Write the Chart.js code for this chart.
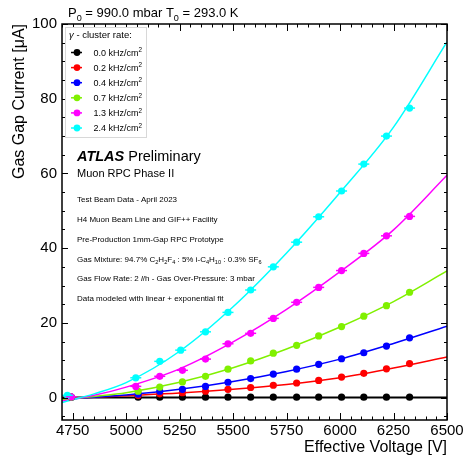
<!DOCTYPE html>
<html>
<head>
<meta charset="utf-8">
<script src="https://cdn.jsdelivr.net/npm/chart.js@4.4.0/dist/chart.umd.min.js"></script>
<style>
  html, body { margin: 0; padding: 0; background: #fff; }
</style>
</head>
<body>
<canvas id="chart" width="466" height="459"></canvas>
<script>
// measured points (effective voltage [V], gas gap current [uA])
const hvRun = [4743, 5056, 5157, 5263, 5371, 5476, 5582, 5688, 5797, 5900, 6007, 6111, 6217, 6325];
const hvMagenta = [4743, 5045, 5157, 5263, 5371, 5476, 5582, 5688, 5797, 5900, 6007, 6111, 6217, 6325];
const hvCyan = [4725, 5045, 5157, 5255, 5371, 5476, 5582, 5688, 5797, 5900, 6007, 6111, 6217, 6325];

const curBlack = [0.1, 0.1, 0.1, 0.1, 0.1, 0.1, 0.1, 0.1, 0.1, 0.1, 0.1, 0.1, 0.1, 0.1];
const curRed = [0.1, 0.6, 1.0, 1.3, 1.7, 2.2, 2.7, 3.3, 3.9, 4.6, 5.5, 6.5, 7.7, 9.1];
const curBlue = [0.1, 0.9, 1.7, 2.2, 3.0, 4.1, 5.1, 6.3, 7.6, 8.9, 10.4, 12.0, 13.8, 16.0];
const curGreen = [0.1, 1.7, 2.8, 4.2, 5.7, 7.6, 9.8, 11.9, 14.0, 16.5, 19.0, 21.8, 24.6, 28.2];
const curMagenta = [0.2, 3.0, 5.7, 7.3, 10.3, 14.4, 17.2, 21.2, 25.5, 29.5, 34.0, 38.6, 43.3, 48.5];
const curCyan = [0.6, 5.3, 9.7, 12.7, 17.6, 22.8, 28.8, 35.0, 41.6, 48.4, 55.3, 62.5, 70.0, 77.5];

// fit curves
const fitHV = [4700, 4850, 5000, 5250, 5500, 5750, 6000, 6250, 6500];
const fitBlack = [0, 0, 0, 0, 0, 0, 0, 0, 0];
const fitRed = [-0.3, 0.1, 0.5, 1.2, 2.2, 3.5, 5.3, 7.9, 10.9];
const fitBlue = [-0.5, 0.1, 0.7, 2.2, 4.3, 7.0, 10.3, 14.5, 19.1];
const fitGreen = [-0.6, 0.3, 1.3, 4.1, 8.0, 13.0, 18.9, 25.7, 33.9];
const fitMagenta = [-0.9, 0.6, 2.8, 7.7, 14.9, 23.6, 33.7, 44.9, 59.5];
const fitCyan = [-1.3, 1.0, 4.0, 12.4, 24.3, 38.7, 54.9, 72.4, 95.2];

const rates = ["0.0", "0.2", "0.4", "0.7", "1.3", "2.4"];
const colors = ["#000000", "#ff0000", "#0000ff", "#80f000", "#ff00ff", "#00ffff"];

const xTicks = [4750, 5000, 5250, 5500, 5750, 6000, 6250, 6500];
const yTicks = [0, 20, 40, 60, 80, 100];

const FONT = '"Liberation Sans", Arial, sans-serif';

const hvs = [hvRun, hvRun, hvRun, hvRun, hvMagenta, hvCyan];
const curs = [curBlack, curRed, curBlue, curGreen, curMagenta, curCyan];
const fits = [fitBlack, fitRed, fitBlue, fitGreen, fitMagenta, fitCyan];

const pts = (xs, ys) => xs.map((v, i) => ({ x: v, y: ys[i] }));

// higher order is drawn first, so later rates end up on top
let datasets = [];
rates.forEach((r, k) => {
    datasets.push({
        label: r + " kHz/cm2",
        data: pts(hvs[k], curs[k]),
        backgroundColor: colors[k],
        borderColor: colors[k],
        borderWidth: 0,
        pointRadius: 3.6,
        order: 20 - k
    });
    datasets.push({
        label: "fit " + r,
        data: pts(fitHV, fits[k]),
        showLine: true,
        borderColor: colors[k],
        borderWidth: k === 0 ? 2 : 1.5,
        pointRadius: 0,
        cubicInterpolationMode: "monotone",
        order: 40 - k
    });
});
// small horizontal error bars on the high rate points
[4, 5].forEach(k => {
    datasets.push({
        label: "err " + rates[k],
        data: pts(hvs[k], curs[k]),
        pointStyle: "line",
        pointRadius: 5.5,
        borderColor: colors[k],
        borderWidth: 1.5,
        order: 10 - k
    });
});

function richText(ctx, x, y, parts, size) {
    parts.forEach(([txt, kind]) => {
        let s = size, dy = 0, style = "";
        if (kind === "sub") { s = size * 0.7; dy = size * 0.3; }
        if (kind === "sup") { s = size * 0.7; dy = -size * 0.4; }
        if (kind === "i") style = "italic ";
        if (kind === "bi") style = "italic bold ";
        ctx.font = style + s + "px " + FONT;
        ctx.fillText(txt, x, y + dy);
        x += ctx.measureText(txt).width;
    });
    return x;
}

/* FRAME + ROOT STYLE TICKS */
const framePlugin = {
    id: "frame",
    afterDatasetsDraw(chart) {
        const { ctx, chartArea: a, scales: { x, y } } = chart;
        ctx.save();
        ctx.strokeStyle = "#000";
        ctx.lineWidth = 1;
        ctx.beginPath();
        for (let v = x.min; v <= x.max; v += 50) {
            const px = Math.round(x.getPixelForValue(v)) + 0.5;
            const len = v % 250 === 0 ? 7 : 3.5;
            ctx.moveTo(px, a.bottom); ctx.lineTo(px, a.bottom - len);
            ctx.moveTo(px, a.top); ctx.lineTo(px, a.top + len);
        }
        for (let v = -5; v <= y.max; v += 5) {
            const py = Math.round(y.getPixelForValue(v)) + 0.5;
            const len = v % 20 === 0 ? 6 : 3;
            ctx.moveTo(a.left, py); ctx.lineTo(a.left + len, py);
            ctx.moveTo(a.right, py); ctx.lineTo(a.right - len, py);
        }
        ctx.stroke();
        ctx.lineWidth = 1.5;
        ctx.strokeRect(a.left, a.top, a.right - a.left, a.bottom - a.top);
        ctx.restore();
    }
};

/* LEGEND + LABELS */
const textPlugin = {
    id: "texts",
    afterDraw(chart) {
        const ctx = chart.ctx;
        ctx.save();
        ctx.fillStyle = "#000";
        ctx.textBaseline = "alphabetic";
        ctx.textAlign = "left";

        richText(ctx, 68, 17, [["P", ""], ["0", "sub"], [" = 990.0 mbar T", ""], ["0", "sub"], [" = 293.0 K", ""]], 13);

        // legend box
        ctx.fillStyle = "#fff";
        ctx.fillRect(65, 27, 81, 110);
        ctx.strokeStyle = "#d8d8d8";
        ctx.lineWidth = 1;
        ctx.strokeRect(65.5, 27.5, 81, 110);
        ctx.fillStyle = "#000";
        richText(ctx, 69, 38, [["γ", "i"], [" - cluster rate:", ""]], 9.5);
        rates.forEach((r, k) => {
            const cy = 52.5 + k * 15.1;
            ctx.strokeStyle = colors[k];
            ctx.lineWidth = 1.5;
            ctx.beginPath();
            ctx.moveTo(71, cy); ctx.lineTo(82, cy);
            ctx.stroke();
            ctx.fillStyle = colors[k];
            ctx.beginPath();
            ctx.arc(77, cy, 3.4, 0, Math.PI * 2);
            ctx.fill();
            ctx.fillStyle = "#000";
            richText(ctx, 93.5, cy + 3.3, [[r + " kHz/cm", ""], ["2", "sup"]], 9);
        });

        const x0 = 77;
        richText(ctx, x0, 161, [["ATLAS", "bi"], [" Preliminary", ""]], 14.5);
        richText(ctx, x0, 177, [["Muon RPC Phase II", ""]], 11);
        const s = 8;
        richText(ctx, x0, 202, [["Test Beam Data - April 2023", ""]], s);
        richText(ctx, x0, 222, [["H4 Muon Beam Line and GIF++ Facility", ""]], s);
        richText(ctx, x0, 242, [["Pre-Production 1mm-Gap RPC Prototype", ""]], s);
        richText(ctx, x0, 261.5, [["Gas Mixture: 94.7% C", ""], ["2", "sub"], ["H", ""], ["2", "sub"], ["F", ""], ["4", "sub"],
            [" : 5% i-C", ""], ["4", "sub"], ["H", ""], ["10", "sub"], [" : 0.3% SF", ""], ["6", "sub"]], s);
        richText(ctx, x0, 281, [["Gas Flow Rate: 2 ", ""], ["l", "i"], ["/h - Gas Over-Pressure: 3 mbar", ""]], s);
        richText(ctx, x0, 300.5, [["Data modeled with linear + exponential fit", ""]], s);
        ctx.restore();
    }
};

new Chart(document.getElementById("chart"), {
    type: "scatter",
    data: { datasets: datasets },
    options: {
        responsive: false,
        animation: false,
        events: [],
        layout: { padding: { top: 24, right: 19, left: 0, bottom: 0 } },
        plugins: { legend: { display: false }, tooltip: { enabled: false } },
        scales: {
            x: {
                type: "linear",
                min: 4700,
                max: 6500,
                afterBuildTicks: s => { s.ticks = xTicks.map(v => ({ value: v })); },
                afterFit: s => { s.height = 39; },
                grid: { display: false, drawTicks: false },
                border: { display: false },
                ticks: {
                    color: "#000",
                    font: { family: FONT, size: 15 },
                    padding: 2,
                    maxRotation: 0,
                    autoSkip: false,
                    callback: v => String(v)
                },
                title: {
                    display: true,
                    text: "Effective Voltage [V]",
                    align: "end",
                    color: "#000",
                    font: { family: FONT, size: 16 },
                    padding: { top: 0, bottom: 2 }
                }
            },
            y: {
                min: -6,
                max: 100,
                afterBuildTicks: s => { s.ticks = yTicks.map(v => ({ value: v })); },
                afterFit: s => { s.width = 62; },
                grid: { display: false, drawTicks: false },
                border: { display: false },
                ticks: { color: "#000", font: { family: FONT, size: 15 }, padding: 5, callback: v => String(v) },
                title: {
                    display: true,
                    text: "Gas Gap Current [μA]",
                    align: "end",
                    color: "#000",
                    font: { family: FONT, size: 16 },
                    padding: { top: 10, bottom: 0 }
                }
            }
        }
    },
    plugins: [framePlugin, textPlugin]
});
</script>
</body>
</html>
